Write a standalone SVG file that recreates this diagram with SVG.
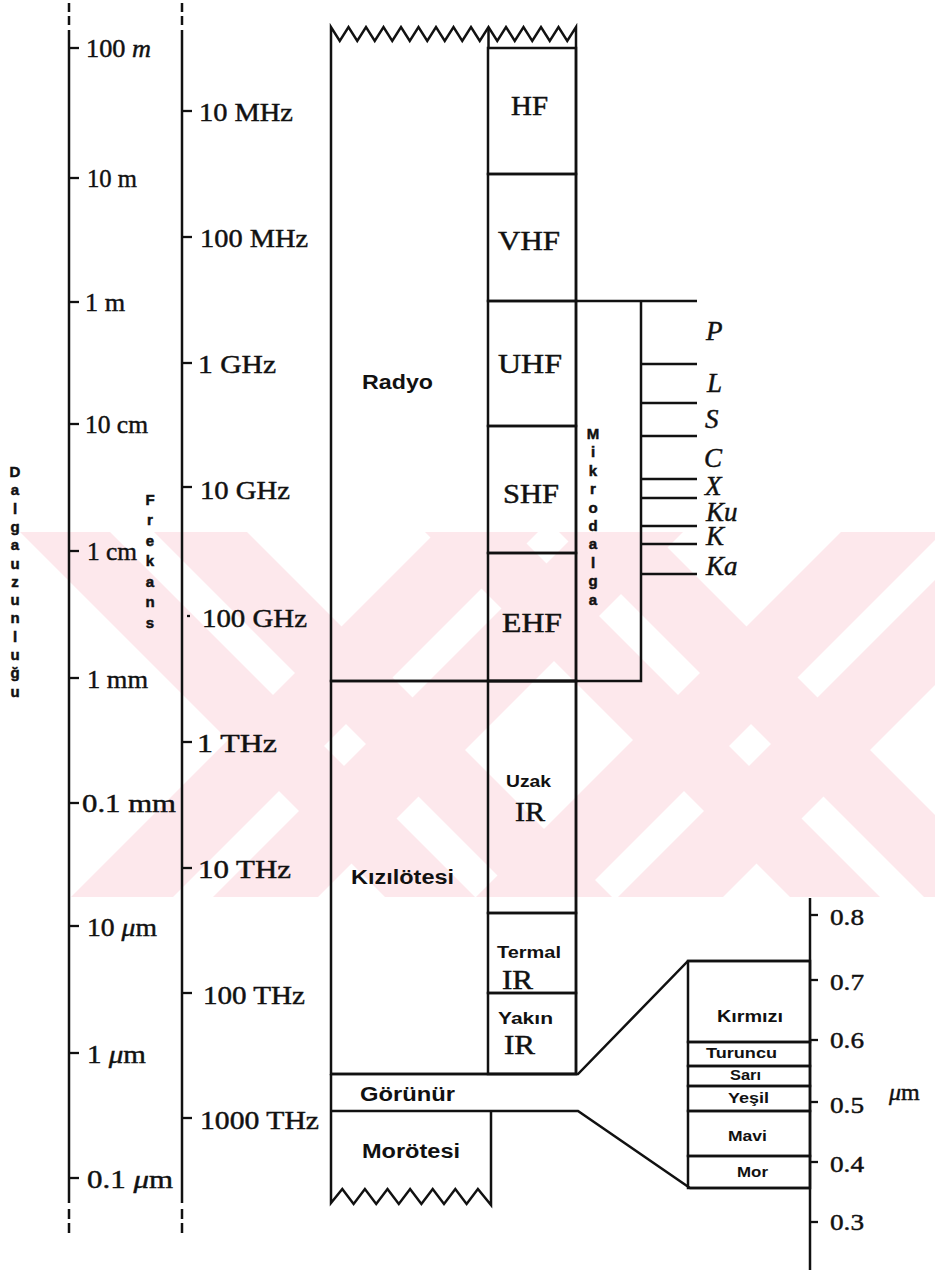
<svg xmlns="http://www.w3.org/2000/svg" width="935" height="1283" viewBox="0 0 935 1283">
<defs>
<style>
.ln{stroke:#111;stroke-width:2.5;fill:none;stroke-linejoin:miter}
.tk{stroke:#111;stroke-width:2.3}
.se{font-family:"Liberation Serif","Times New Roman",serif;fill:#111;stroke:#111;stroke-width:0.45}
.sb{font-family:"Liberation Sans",Arial,sans-serif;font-weight:bold;fill:#111}
.ax{font-size:26px}
.band{font-size:27px}
.mw{font-size:27px;font-style:italic}
.vt{font-size:15px;text-anchor:middle;stroke:#111;stroke-width:0.5}
.wm{fill:#fde8ec}
</style>
<clipPath id="wmclip"><rect x="0" y="532" width="935" height="365"/></clipPath>
</defs>
<rect width="935" height="1283" fill="#fff"/>
<g id="watermark" clip-path="url(#wmclip)">
<polygon class="wm" points="20,532 110,532 475,897 385,897"/>
<polygon class="wm" points="154,532 247,532 612,897 519,897"/>
<polygon class="wm" points="436,532 538,532 173,897 71,897"/>
<polygon class="wm" points="578,532 683,532 318,897 213,897"/>
<polygon class="wm" points="425,532 515,532 880,897 790,897"/>
<polygon class="wm" points="559,532 652,532 1017,897 924,897"/>
<polygon class="wm" points="841,532 943,532 578,897 476,897"/>
<polygon class="wm" points="983,532 1088,532 723,897 618,897"/>
</g>
<g id="axes">
<line class="ln" x1="69" y1="30" x2="69" y2="1203"/>
<line class="ln" x1="69" y1="3" x2="69" y2="26" stroke-dasharray="9 4"/>
<line class="ln" x1="69" y1="1209" x2="69" y2="1236" stroke-dasharray="10 4"/>
<line class="ln" x1="182" y1="30" x2="182" y2="1203"/>
<line class="ln" x1="182" y1="3" x2="182" y2="26" stroke-dasharray="9 4"/>
<line class="ln" x1="182" y1="1209" x2="182" y2="1236" stroke-dasharray="10 4"/>
<g class="tk">
<line x1="69" y1="48" x2="79" y2="48"/>
<line x1="69" y1="178" x2="79" y2="178"/>
<line x1="69" y1="302" x2="79" y2="302"/>
<line x1="69" y1="424" x2="79" y2="424"/>
<line x1="69" y1="551" x2="79" y2="551"/>
<line x1="69" y1="678" x2="79" y2="678"/>
<line x1="69" y1="803" x2="79" y2="803"/>
<line x1="69" y1="926" x2="79" y2="926"/>
<line x1="69" y1="1053" x2="79" y2="1053"/>
<line x1="69" y1="1178" x2="79" y2="1178"/>
<line x1="182" y1="111" x2="192" y2="111"/>
<line x1="182" y1="237" x2="192" y2="237"/>
<line x1="182" y1="363" x2="192" y2="363"/>
<line x1="182" y1="487" x2="192" y2="487"/>
<line x1="187" y1="616" x2="190" y2="616"/>
<line x1="182" y1="742" x2="192" y2="742"/>
<line x1="182" y1="868" x2="192" y2="868"/>
<line x1="182" y1="993" x2="192" y2="993"/>
<line x1="182" y1="1118" x2="192" y2="1118"/>
</g>
<g class="se ax">
<text x="86" y="57" textLength="65" lengthAdjust="spacingAndGlyphs">100 <tspan font-style="italic">m</tspan></text>
<text x="87" y="187" textLength="50" lengthAdjust="spacingAndGlyphs">10 m</text>
<text x="85" y="311" textLength="40" lengthAdjust="spacingAndGlyphs">1 m</text>
<text x="85" y="433" textLength="63" lengthAdjust="spacingAndGlyphs">10 cm</text>
<text x="87" y="560" textLength="50" lengthAdjust="spacingAndGlyphs">1 cm</text>
<text x="87" y="688" textLength="61" lengthAdjust="spacingAndGlyphs">1 mm</text>
<text x="82" y="812" textLength="94" lengthAdjust="spacingAndGlyphs">0.1 mm</text>
<text x="87" y="936" textLength="70" lengthAdjust="spacingAndGlyphs">10 <tspan font-style="italic">μ</tspan>m</text>
<text x="87" y="1063" textLength="59" lengthAdjust="spacingAndGlyphs">1 <tspan font-style="italic">μ</tspan>m</text>
<text x="87" y="1188" textLength="86" lengthAdjust="spacingAndGlyphs">0.1 <tspan font-style="italic">μ</tspan>m</text>
<text x="199" y="121" textLength="94" lengthAdjust="spacingAndGlyphs">10 MHz</text>
<text x="200" y="247" textLength="108" lengthAdjust="spacingAndGlyphs">100 MHz</text>
<text x="198" y="373" textLength="78" lengthAdjust="spacingAndGlyphs">1 GHz</text>
<text x="200" y="499" textLength="90" lengthAdjust="spacingAndGlyphs">10 GHz</text>
<text x="202" y="627" textLength="105" lengthAdjust="spacingAndGlyphs">100 GHz</text>
<text x="197" y="752" textLength="80" lengthAdjust="spacingAndGlyphs">1 THz</text>
<text x="198" y="878" textLength="93" lengthAdjust="spacingAndGlyphs">10 THz</text>
<text x="203" y="1004" textLength="102" lengthAdjust="spacingAndGlyphs">100 THz</text>
<text x="200" y="1129" textLength="119" lengthAdjust="spacingAndGlyphs">1000 THz</text>
</g>
<text class="sb vt"><tspan x="15" y="477">D</tspan><tspan x="15" y="495">a</tspan><tspan x="15" y="514">l</tspan><tspan x="15" y="532">g</tspan><tspan x="15" y="550">a</tspan><tspan x="15" y="569">u</tspan><tspan x="15" y="587">z</tspan><tspan x="15" y="605">u</tspan><tspan x="15" y="623">n</tspan><tspan x="15" y="642">l</tspan><tspan x="15" y="660">u</tspan><tspan x="15" y="678">ğ</tspan><tspan x="15" y="697">u</tspan></text>
<text class="sb vt"><tspan x="150" y="505">F</tspan><tspan x="150" y="525">r</tspan><tspan x="150" y="546">e</tspan><tspan x="150" y="566">k</tspan><tspan x="150" y="587">a</tspan><tspan x="150" y="607">n</tspan><tspan x="150" y="628">s</tspan></text>
</g>
<g id="radyo">
<path class="ln" d="M331,681 V27 L339.75,41 L348.5,27 L357.25,41 L366,27 L374.75,41 L383.5,27 L392.25,41 L401,27 L409.75,41 L418.5,27 L427.25,41 L436,27 L444.75,41 L453.5,27 L462.25,41 L471,27 L479.75,41 L488.5,27 L497.25,41 L506,27 L514.75,41 L523.5,27 L532.25,41 L541,27 L549.75,41 L558.5,27 L567.25,41 L576,27 V681 Z"/>
<line class="ln" x1="488.5" y1="27" x2="488.5" y2="48"/>
<text class="sb" x="362" y="389" font-size="21" textLength="71" lengthAdjust="spacingAndGlyphs">Radyo</text>
</g>
<g id="hf"><rect class="ln" x="488" y="48" width="88" height="126"/><text class="se band" x="511" y="115" textLength="37" lengthAdjust="spacingAndGlyphs">HF</text></g>
<g id="vhf"><rect class="ln" x="488" y="174" width="88" height="127"/><text class="se band" x="498" y="250" textLength="62" lengthAdjust="spacingAndGlyphs">VHF</text></g>
<g id="uhf"><rect class="ln" x="488" y="301" width="88" height="125"/><text class="se band" x="498" y="373" textLength="64" lengthAdjust="spacingAndGlyphs">UHF</text></g>
<g id="shf"><rect class="ln" x="488" y="426" width="88" height="127"/><text class="se band" x="503" y="503" textLength="56" lengthAdjust="spacingAndGlyphs">SHF</text></g>
<g id="ehf"><rect class="ln" x="488" y="553" width="88" height="128"/><text class="se band" x="502" y="632" textLength="60" lengthAdjust="spacingAndGlyphs">EHF</text></g>
<g id="mikrodalga">
<path class="ln" d="M576,301 H697 M641,301 V681 H576"/>
<g class="tk">
<line x1="641" y1="364" x2="697" y2="364"/>
<line x1="641" y1="403" x2="697" y2="403"/>
<line x1="641" y1="436" x2="697" y2="436"/>
<line x1="641" y1="479" x2="697" y2="479"/>
<line x1="641" y1="498" x2="697" y2="498"/>
<line x1="641" y1="526" x2="697" y2="526"/>
<line x1="641" y1="544" x2="697" y2="544"/>
<line x1="641" y1="574" x2="697" y2="574"/>
</g>
<text class="sb vt"><tspan x="593" y="439">M</tspan><tspan x="593" y="457">i</tspan><tspan x="593" y="476">k</tspan><tspan x="593" y="494">r</tspan><tspan x="593" y="513">o</tspan><tspan x="593" y="531">d</tspan><tspan x="593" y="549">a</tspan><tspan x="593" y="568">l</tspan><tspan x="593" y="586">g</tspan><tspan x="593" y="605">a</tspan></text>
<g class="se mw">
<text x="706" y="340">P</text>
<text x="707" y="392">L</text>
<text x="705" y="428">S</text>
<text x="704" y="467">C</text>
<text x="705" y="495">X</text>
<text x="706" y="521">Ku</text>
<text x="706" y="545">K</text>
<text x="706" y="575">Ka</text>
</g>
</g>
<g id="kizilotesi">
<path class="ln" d="M331,681 V1074 H576 V681 Z"/>
<text class="sb" x="351" y="884" font-size="20" textLength="103" lengthAdjust="spacingAndGlyphs">Kızılötesi</text>
</g>
<g id="uzak-ir"><rect class="ln" x="488" y="681" width="88" height="232"/><text class="sb" x="506" y="787" font-size="17" textLength="45" lengthAdjust="spacingAndGlyphs">Uzak</text><text class="se" x="515" y="821" font-size="27" textLength="30" lengthAdjust="spacingAndGlyphs">IR</text></g>
<g id="termal-ir"><rect class="ln" x="488" y="913" width="88" height="80"/><text class="sb" x="497" y="958" font-size="17" textLength="64" lengthAdjust="spacingAndGlyphs">Termal</text><text class="se" x="502" y="989" font-size="27" textLength="31" lengthAdjust="spacingAndGlyphs">IR</text></g>
<g id="yakin-ir"><rect class="ln" x="488" y="993" width="88" height="81"/><text class="sb" x="498" y="1024" font-size="17" textLength="55" lengthAdjust="spacingAndGlyphs">Yakın</text><text class="se" x="504" y="1054" font-size="27" textLength="31" lengthAdjust="spacingAndGlyphs">IR</text></g>
<g id="gorunur">
<path class="ln" d="M331,1074 V1111 M331,1074 H578 L688,961 H810 M331,1111 H578 L690,1188 H810"/>
<text class="sb" x="360" y="1101" font-size="20" textLength="95" lengthAdjust="spacingAndGlyphs">Görünür</text>
</g>
<g id="morotesi">
<path class="ln" d="M331,1111 V1203 L342.3,1189 L353.6,1204 L364.9,1189 L376.2,1204 L387.5,1189 L398.8,1204 L410.1,1189 L421.4,1204 L432.7,1189 L444,1204 L455.3,1189 L466.6,1204 L477.9,1189 L491,1205 V1111"/>
<text class="sb" x="362" y="1158" font-size="20" textLength="98" lengthAdjust="spacingAndGlyphs">Morötesi</text>
</g>
<g id="visible" class="sb">
<rect class="ln" x="688" y="961" width="122" height="81"/><text x="717" y="1022" font-size="16" textLength="66" lengthAdjust="spacingAndGlyphs">Kırmızı</text>
<rect class="ln" x="688" y="1042" width="122" height="24"/><text x="706" y="1058" font-size="15" textLength="71" lengthAdjust="spacingAndGlyphs">Turuncu</text>
<rect class="ln" x="688" y="1066" width="122" height="20"/><text x="730" y="1080" font-size="14" textLength="31" lengthAdjust="spacingAndGlyphs">Sarı</text>
<rect class="ln" x="688" y="1086" width="122" height="25"/><text x="728" y="1103" font-size="15" textLength="41" lengthAdjust="spacingAndGlyphs">Yeşil</text>
<rect class="ln" x="688" y="1111" width="122" height="45"/><text x="728" y="1141" font-size="15" textLength="39" lengthAdjust="spacingAndGlyphs">Mavi</text>
<rect class="ln" x="688" y="1156" width="122" height="32"/><text x="737" y="1177" font-size="15" textLength="31" lengthAdjust="spacingAndGlyphs">Mor</text>
</g>
<g id="um-axis">
<line class="ln" x1="810" y1="898" x2="810" y2="1270"/>
<g class="tk">
<line x1="810" y1="915" x2="818" y2="915"/>
<line x1="810" y1="980" x2="818" y2="980"/>
<line x1="810" y1="1040" x2="818" y2="1040"/>
<line x1="810" y1="1102" x2="818" y2="1102"/>
<line x1="810" y1="1162" x2="818" y2="1162"/>
<line x1="810" y1="1222" x2="818" y2="1222"/>
</g>
<g class="se" font-size="24">
<text x="830" y="925" textLength="34" lengthAdjust="spacingAndGlyphs">0.8</text>
<text x="830" y="990" textLength="34" lengthAdjust="spacingAndGlyphs">0.7</text>
<text x="830" y="1048" textLength="34" lengthAdjust="spacingAndGlyphs">0.6</text>
<text x="830" y="1113" textLength="34" lengthAdjust="spacingAndGlyphs">0.5</text>
<text x="830" y="1172" textLength="34" lengthAdjust="spacingAndGlyphs">0.4</text>
<text x="830" y="1230" textLength="34" lengthAdjust="spacingAndGlyphs">0.3</text>
<text x="889" y="1100"><tspan font-style="italic">μ</tspan>m</text>
</g>
</g>
</svg>
